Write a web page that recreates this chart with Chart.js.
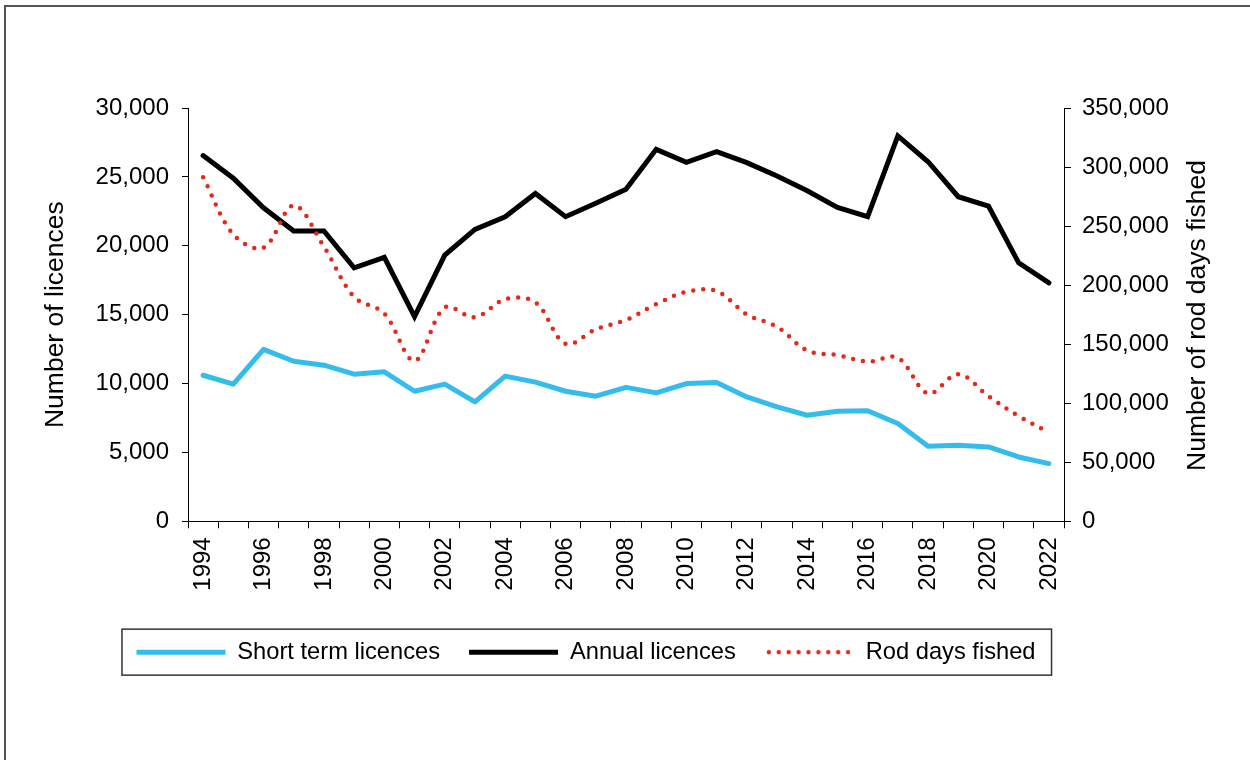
<!DOCTYPE html>
<html>
<head>
<meta charset="utf-8">
<script src="https://cdn.jsdelivr.net/npm/chart.js@4"></script>
<style>
  html, body { margin: 0; padding: 0; background: #fff; }
  #wrap { position: relative; width: 1250px; height: 760px; overflow: hidden; }
  #frame { position: absolute; left: 4px; top: 5px; width: 1260px; height: 800px;
           border-top: 2px solid #555; border-left: 2px solid #555; }
  #chart { position: absolute; left: 0; top: 0; }
</style>
</head>
<body>
<div id="wrap">
  <div id="frame"></div>
  <canvas id="chart" width="1250" height="760"></canvas>
</div>
<script>
// data
const years = ['1994','1995','1996','1997','1998','1999','2000','2001','2002','2003',
  '2004','2005','2006','2007','2008','2009','2010','2011','2012','2013',
  '2014','2015','2016','2017','2018','2019','2020','2021','2022']

const shortTerm = [10600, 9950, 12480, 11620, 11330, 10680, 10850, 9440, 9960, 8670,
  10540, 10100, 9440, 9080, 9720, 9320, 10000, 10080, 9030, 8300,
  7700, 7990, 8020, 7100, 5450, 5520, 5400, 4670, 4190]

const annual = [26550, 24900, 22760, 21070, 21070, 18400, 19160, 14850, 19320, 21190,
  22110, 23800, 22110, 23080, 24100, 27000, 26060, 26830, 26030, 25060,
  23990, 22790, 22110, 27970, 26100, 23560, 22880, 18760, 17310]

const rodDays = [291300, 243000, 231600, 267500, 232500, 190000, 176000, 135900, 181000, 172800,
  188100, 185500, 150300, 162700, 170500, 183900, 194300, 194900, 175200, 164700,
  144600, 140700, 135300, 138400, 108200, 124600, 105900, 89000, 75200]

const leftTicks = { min: 0, max: 30000, step: 5000 }
const rightTicks = { min: 0, max: 350000, step: 50000 }

const FONT = "'Liberation Sans', Arial, sans-serif"
Chart.defaults.font.family = FONT
Chart.defaults.color = '#000'

const AREA = { left: 188, right: 1064, top: 108, bottom: 521 }
const RED = '#e5281c'

const fmt = (v) => Number(v).toLocaleString('en-US')

// the legend can't dash a point-style line, so give it a small dotted sample
const dotSample = document.createElement('canvas')
dotSample.width = 89
dotSample.height = 6
const dctx = dotSample.getContext('2d')
dctx.fillStyle = RED
for (let i = 0; i < 9; i++) {
  dctx.beginPath()
  dctx.arc(4 + i * 9.9, 3, 2.2, 0, Math.PI * 2)
  dctx.fill()
}

// right axis title reads bottom-to-top like the left one
const rightTitle = {
  id: 'rightTitle',
  afterDraw(chart) {
    const ctx = chart.ctx
    ctx.save()
    ctx.translate(1198, (AREA.top + AREA.bottom) / 2 + 1)
    ctx.rotate(-Math.PI / 2)
    ctx.font = `26.5px ${FONT}`
    ctx.fillStyle = '#000'
    ctx.textAlign = 'center'
    ctx.textBaseline = 'middle'
    ctx.fillText('Number of rod days fished', 0, 0)
    ctx.restore()
  }
}

// shift legend left so it sits in its box, then draw the box
const legendBox = {
  id: 'legendBox',
  afterLayout(chart) {
    chart.legend.left -= 39
    chart.legend.right -= 39
  },
  afterDraw(chart) {
    const hb = chart.legend.legendHitBoxes
    if (!hb || !hb.length) return
    const first = hb[0], last = hb[hb.length - 1]
    const cy = first.top + first.height / 2
    const ctx = chart.ctx
    ctx.save()
    ctx.strokeStyle = '#333'
    ctx.lineWidth = 1.5
    ctx.strokeRect(first.left - 14.5, cy - 23, (last.left + last.width + 16) - (first.left - 14.5), 46)
    ctx.restore()
  }
}

const ctx = document.querySelector('#chart').getContext('2d')

new Chart(ctx, {
  type: 'line',
  data: {
    labels: years,
    datasets: [
      {
        label: 'Short term licences',
        data: shortTerm,
        yAxisID: 'y',
        borderColor: '#33bcec',
        backgroundColor: '#33bcec',
        borderWidth: 5,
        borderCapStyle: 'round',
        borderJoinStyle: 'round',
        pointRadius: 0,
        tension: 0,
        order: 3
      },
      {
        label: 'Annual licences',
        data: annual,
        yAxisID: 'y',
        borderColor: '#000',
        backgroundColor: '#000',
        borderWidth: 5,
        borderCapStyle: 'round',
        borderJoinStyle: 'miter',
        pointRadius: 0,
        tension: 0,
        order: 2
      },
      {
        label: 'Rod days fished',
        data: rodDays,
        yAxisID: 'y1',
        borderColor: RED,
        backgroundColor: RED,
        borderWidth: 4.5,
        borderDash: [0, 10],
        borderCapStyle: 'round',
        pointRadius: 0,
        tension: 0.35,
        order: 1
      }
    ]
  },
  options: {
    responsive: false,
    animation: false,
    layout: { padding: { top: AREA.top, bottom: 86, left: 0, right: 0 } },
    plugins: {
      tooltip: { enabled: false },
      legend: {
        position: 'bottom',
        labels: {
          usePointStyle: true,
          pointStyle: 'line',
          pointStyleWidth: 89,
          padding: 29,
          font: { size: 23.7 },
          color: '#000',
          sort: (a, b) => a.datasetIndex - b.datasetIndex,
          generateLabels(chart) {
            const items = Chart.defaults.plugins.legend.labels.generateLabels(chart)
            items.forEach((it) => { if (it.datasetIndex === 2) it.pointStyle = dotSample })
            return items
          }
        }
      }
    },
    scales: {
      x: {
        offset: true,
        grid: { offset: true, drawOnChartArea: false, drawTicks: true, tickLength: 7, tickColor: '#000', lineWidth: 1 },
        border: { display: true, color: '#000', width: 1 },
        ticks: {
          autoSkip: false,
          minRotation: 90,
          maxRotation: 90,
          padding: 9,
          font: { size: 24 },
          callback: function (value, index) {
            return index % 2 === 0 ? this.getLabelForValue(value) : ''
          }
        },
        afterFit: (scale) => { scale.height = 90 }
      },
      y: {
        position: 'left',
        min: leftTicks.min,
        max: leftTicks.max,
        grid: { drawOnChartArea: false, drawTicks: true, tickLength: 6, tickColor: '#000' },
        border: { display: true, color: '#000', width: 1 },
        ticks: { stepSize: leftTicks.step, padding: 13, font: { size: 24 }, callback: fmt },
        title: { display: true, text: 'Number of licences', font: { size: 26.5 }, padding: { top: 40, bottom: 0 } },
        afterFit: (scale) => { scale.width = AREA.left }
      },
      y1: {
        position: 'right',
        min: rightTicks.min,
        max: rightTicks.max,
        grid: { drawOnChartArea: false, drawTicks: true, tickLength: 7, tickColor: '#000' },
        border: { display: true, color: '#000', width: 1 },
        ticks: { stepSize: rightTicks.step, padding: 11, font: { size: 24 }, callback: fmt },
        afterFit: (scale) => { scale.width = 1250 - AREA.right }
      }
    }
  },
  plugins: [rightTitle, legendBox]
})
</script>
</body>
</html>
